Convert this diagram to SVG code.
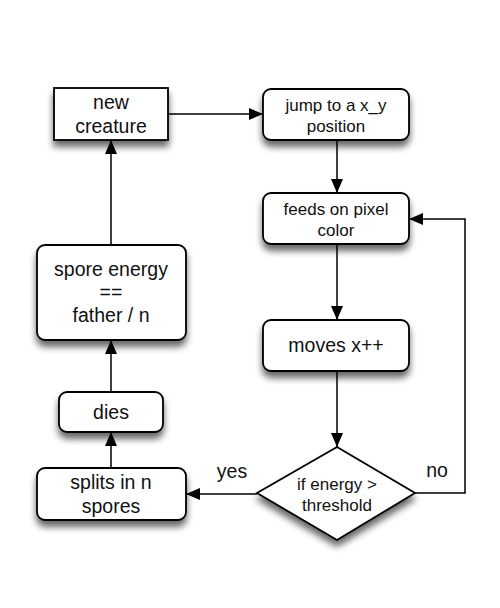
<svg xmlns="http://www.w3.org/2000/svg" width="500" height="608" viewBox="0 0 500 608">
<defs>
<filter id="sh" x="-20%" y="-20%" width="140%" height="160%">
<feGaussianBlur in="SourceAlpha" stdDeviation="3.5"/>
<feOffset dx="0" dy="6" result="b"/>
<feComponentTransfer><feFuncA type="linear" slope="0.6"/></feComponentTransfer>
<feMerge><feMergeNode/><feMergeNode in="SourceGraphic"/></feMerge>
</filter>
<marker id="ah" viewBox="0 0 14 12" refX="14" refY="6" markerWidth="14" markerHeight="12" markerUnits="userSpaceOnUse" orient="auto">
<path d="M0,0 L14,6 L0,12 Z" fill="#000"/>
</marker>
</defs>
<style>
.n{fill:#fff;stroke:#000;stroke-width:1.8}
.t{font-family:"Liberation Sans",Arial,sans-serif;fill:#111;text-anchor:middle}
.l{font-size:19.5px}
.s{font-size:17px}
.c{fill:none;stroke:#000;stroke-width:1.5}
</style>
<rect width="500" height="608" fill="#fff"/>
<g id="connectors">
<path class="c" d="M168,114 L263,114" marker-end="url(#ah)"/>
<path class="c" d="M337,140 L337,193" marker-end="url(#ah)"/>
<path class="c" d="M337,244 L337,320" marker-end="url(#ah)"/>
<path class="c" d="M337,371 L337,447" marker-end="url(#ah)"/>
<path class="c" d="M415,493 L465,493 L465,219 L409,219" marker-end="url(#ah)"/>
<path class="c" d="M257,494 L186,494" marker-end="url(#ah)"/>
<path class="c" d="M111,468 L111,432" marker-end="url(#ah)"/>
<path class="c" d="M111,392 L111,340" marker-end="url(#ah)"/>
<path class="c" d="M111,245 L111,140" marker-end="url(#ah)"/>
<text class="t l" x="232" y="478">yes</text>
<text class="t l" x="437" y="477">no</text>
</g>
<g id="new-creature">
<rect class="n" x="54" y="88" width="114" height="52" filter="url(#sh)"/>
<text class="t l" x="111" y="109">new</text>
<text class="t l" x="111" y="133">creature</text>
</g>
<g id="jump">
<rect class="n" x="263" y="89" width="146" height="51" rx="8" filter="url(#sh)"/>
<text class="t s" x="336" y="111">jump to a x_y</text>
<text class="t s" x="336" y="132">position</text>
</g>
<g id="feeds">
<rect class="n" x="263" y="193" width="146" height="51" rx="8" filter="url(#sh)"/>
<text class="t s" x="336" y="215">feeds on pixel</text>
<text class="t s" x="336" y="236">color</text>
</g>
<g id="moves">
<rect class="n" x="263" y="320" width="146" height="51" rx="8" filter="url(#sh)"/>
<text class="t l" x="336" y="352">moves x++</text>
</g>
<g id="decision">
<path class="n" d="M337,447 L415,493 L337,540 L257,493 Z" filter="url(#sh)"/>
<text class="t s" x="337" y="490">if energy &gt;</text>
<text class="t s" x="337" y="511">threshold</text>
</g>
<g id="spore-energy">
<rect class="n" x="37" y="245" width="149" height="95" rx="8" filter="url(#sh)"/>
<text class="t l" x="111" y="276">spore energy</text>
<text class="t l" x="111" y="299">==</text>
<text class="t l" x="111" y="322">father / n</text>
</g>
<g id="dies">
<rect class="n" x="59" y="392" width="104" height="40" rx="8" filter="url(#sh)"/>
<text class="t l" x="111" y="419">dies</text>
</g>
<g id="splits">
<rect class="n" x="37" y="468" width="149" height="52" rx="8" filter="url(#sh)"/>
<text class="t l" x="111" y="489">splits in n</text>
<text class="t l" x="111" y="513">spores</text>
</g>
</svg>
